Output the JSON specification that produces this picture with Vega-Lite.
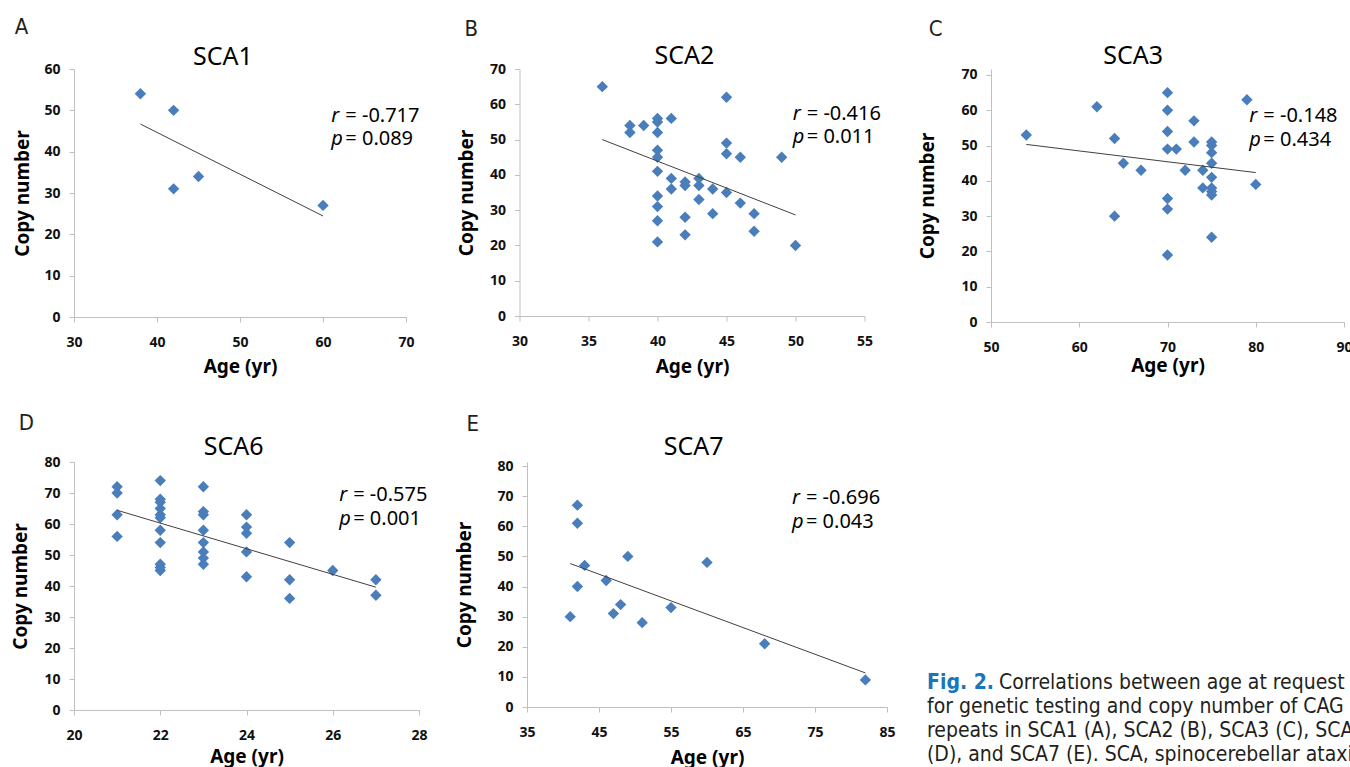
{
"$schema": "https://vega.github.io/schema/vega-lite/v6.json",
"background": "white",
"padding": {"left": 11, "top": 16, "right": 0, "bottom": 0},
"config": {
  "view": {"stroke": null},
  "axis": {"grid": false, "domainColor": "#bfbfbf", "tickColor": "#bfbfbf", "tickSize": 5,
    "labelFont": "Noto Sans", "labelFontSize": 14, "labelFontWeight": "bold", "labelColor": "#111",
    "titleFont": "Noto Sans", "titleFontSize": 19, "titleFontWeight": "bold", "titleColor": "#000",
    "labelFlush": false, "labelOverlap": false},
  "axisX": {"labelPadding": 13},
  "axisY": {"labelPadding": 9}
},
"datasets": {
  "pts": [
    {"panel":"SCA1","age":38,"copies":54},{"panel":"SCA1","age":42,"copies":50},{"panel":"SCA1","age":42,"copies":31},{"panel":"SCA1","age":45,"copies":34},{"panel":"SCA1","age":60,"copies":27},
    {"panel":"SCA2","age":36,"copies":65},{"panel":"SCA2","age":38,"copies":54},{"panel":"SCA2","age":38,"copies":52},{"panel":"SCA2","age":39,"copies":54},
    {"panel":"SCA2","age":40,"copies":56},{"panel":"SCA2","age":40,"copies":55},{"panel":"SCA2","age":40,"copies":52},{"panel":"SCA2","age":40,"copies":47},{"panel":"SCA2","age":40,"copies":45},{"panel":"SCA2","age":40,"copies":41},{"panel":"SCA2","age":40,"copies":34},{"panel":"SCA2","age":40,"copies":31},{"panel":"SCA2","age":40,"copies":27},{"panel":"SCA2","age":40,"copies":21},
    {"panel":"SCA2","age":41,"copies":56},{"panel":"SCA2","age":41,"copies":39},{"panel":"SCA2","age":41,"copies":36},
    {"panel":"SCA2","age":42,"copies":38},{"panel":"SCA2","age":42,"copies":37},{"panel":"SCA2","age":42,"copies":28},{"panel":"SCA2","age":42,"copies":23},
    {"panel":"SCA2","age":43,"copies":39},{"panel":"SCA2","age":43,"copies":37},{"panel":"SCA2","age":43,"copies":33},
    {"panel":"SCA2","age":44,"copies":36},{"panel":"SCA2","age":44,"copies":29},
    {"panel":"SCA2","age":45,"copies":62},{"panel":"SCA2","age":45,"copies":49},{"panel":"SCA2","age":45,"copies":46},{"panel":"SCA2","age":45,"copies":35},
    {"panel":"SCA2","age":46,"copies":45},{"panel":"SCA2","age":46,"copies":32},
    {"panel":"SCA2","age":47,"copies":29},{"panel":"SCA2","age":47,"copies":24},
    {"panel":"SCA2","age":49,"copies":45},{"panel":"SCA2","age":50,"copies":20},
    {"panel":"SCA3","age":54,"copies":53},{"panel":"SCA3","age":62,"copies":61},{"panel":"SCA3","age":64,"copies":52},{"panel":"SCA3","age":64,"copies":30},{"panel":"SCA3","age":65,"copies":45},{"panel":"SCA3","age":67,"copies":43},
    {"panel":"SCA3","age":70,"copies":65},{"panel":"SCA3","age":70,"copies":60},{"panel":"SCA3","age":70,"copies":54},{"panel":"SCA3","age":70,"copies":49},{"panel":"SCA3","age":70,"copies":35},{"panel":"SCA3","age":70,"copies":32},{"panel":"SCA3","age":70,"copies":19},
    {"panel":"SCA3","age":71,"copies":49},{"panel":"SCA3","age":72,"copies":43},{"panel":"SCA3","age":73,"copies":57},{"panel":"SCA3","age":73,"copies":51},{"panel":"SCA3","age":74,"copies":43},{"panel":"SCA3","age":74,"copies":38},
    {"panel":"SCA3","age":75,"copies":51},{"panel":"SCA3","age":75,"copies":50},{"panel":"SCA3","age":75,"copies":48},{"panel":"SCA3","age":75,"copies":45},{"panel":"SCA3","age":75,"copies":41},{"panel":"SCA3","age":75,"copies":38},{"panel":"SCA3","age":75,"copies":37},{"panel":"SCA3","age":75,"copies":36},{"panel":"SCA3","age":75,"copies":24},
    {"panel":"SCA3","age":79,"copies":63},{"panel":"SCA3","age":80,"copies":39},
    {"panel":"SCA6","age":21,"copies":72},{"panel":"SCA6","age":21,"copies":70},{"panel":"SCA6","age":21,"copies":63},{"panel":"SCA6","age":21,"copies":56},
    {"panel":"SCA6","age":22,"copies":74},{"panel":"SCA6","age":22,"copies":68},{"panel":"SCA6","age":22,"copies":67},{"panel":"SCA6","age":22,"copies":65},{"panel":"SCA6","age":22,"copies":63},{"panel":"SCA6","age":22,"copies":62},{"panel":"SCA6","age":22,"copies":58},{"panel":"SCA6","age":22,"copies":54},{"panel":"SCA6","age":22,"copies":47},{"panel":"SCA6","age":22,"copies":46},{"panel":"SCA6","age":22,"copies":45},
    {"panel":"SCA6","age":23,"copies":72},{"panel":"SCA6","age":23,"copies":64},{"panel":"SCA6","age":23,"copies":63},{"panel":"SCA6","age":23,"copies":58},{"panel":"SCA6","age":23,"copies":54},{"panel":"SCA6","age":23,"copies":51},{"panel":"SCA6","age":23,"copies":49},{"panel":"SCA6","age":23,"copies":47},
    {"panel":"SCA6","age":24,"copies":63},{"panel":"SCA6","age":24,"copies":59},{"panel":"SCA6","age":24,"copies":57},{"panel":"SCA6","age":24,"copies":51},{"panel":"SCA6","age":24,"copies":43},
    {"panel":"SCA6","age":25,"copies":54},{"panel":"SCA6","age":25,"copies":42},{"panel":"SCA6","age":25,"copies":36},
    {"panel":"SCA6","age":26,"copies":45},{"panel":"SCA6","age":27,"copies":42},{"panel":"SCA6","age":27,"copies":37},
    {"panel":"SCA7","age":41,"copies":30},{"panel":"SCA7","age":42,"copies":67},{"panel":"SCA7","age":42,"copies":61},{"panel":"SCA7","age":42,"copies":40},{"panel":"SCA7","age":43,"copies":47},{"panel":"SCA7","age":46,"copies":42},{"panel":"SCA7","age":47,"copies":31},{"panel":"SCA7","age":48,"copies":34},{"panel":"SCA7","age":49,"copies":50},{"panel":"SCA7","age":51,"copies":28},{"panel":"SCA7","age":55,"copies":33},{"panel":"SCA7","age":60,"copies":48},{"panel":"SCA7","age":68,"copies":21},{"panel":"SCA7","age":82,"copies":9}
  ],
  "stats": [
    {"panel":"SCA1","letter":"A","r":"= -0.717","p":"= 0.089"},
    {"panel":"SCA2","letter":"B","r":"= -0.416","p":"= 0.011"},
    {"panel":"SCA3","letter":"C","r":"= -0.148","p":"= 0.434"},
    {"panel":"SCA6","letter":"D","r":"= -0.575","p":"= 0.001"},
    {"panel":"SCA7","letter":"E","r":"= -0.696","p":"= 0.043"}
  ],
  "caption": [
    {"line":1,"part":"lead","text":"Fig. 2."},
    {"line":1,"part":"first","text":"Correlations between age at request"},
    {"line":2,"part":"body","text":"for genetic testing and copy number of CAG"},
    {"line":3,"part":"body","text":"repeats in SCA1 (A), SCA2 (B), SCA3 (C), SCA6"},
    {"line":4,"part":"body","text":"(D), and SCA7 (E). SCA, spinocerebellar ataxia."}
  ]
},
"spacing": 35,
"vconcat": [
{"spacing": 36.5, "columns": 3, "align": "none", "concat": [
  {"width": 332, "height": 248,
   "layer": [
    {"data": {"name":"pts"}, "transform": [{"filter":"datum.panel === 'SCA1'"}],
     "mark": {"type":"point","shape":"diamond","filled":true,"size":130,"color":"#4a7ebb","opacity":1},
     "encoding": {
       "x": {"field":"age","type":"quantitative","scale":{"domain":[30,70],"nice":false,"zero":false},"axis":{"title":"Age (yr)","values":[30,40,50,60,70],"titlePadding":8.5,"labelOverlap":false}},
       "y": {"field":"copies","type":"quantitative","scale":{"domain":[0,60],"nice":false},"axis":{"title":"Copy number","values":[0,10,20,30,40,50,60],"titlePadding":11,"labelOverlap":false}}}},
    {"data": {"name":"pts"}, "transform": [{"filter":"datum.panel === 'SCA1'"},{"regression":"copies","on":"age"}],
     "mark": {"type":"line","color":"#404040","strokeWidth":1},
     "encoding": {
       "x": {"field":"age","type":"quantitative","axis":{"title":"Age (yr)","values":[30,40,50,60,70],"titlePadding":8.5,"labelOverlap":false}},
       "y": {"field":"copies","type":"quantitative","axis":{"title":"Copy number","values":[0,10,20,30,40,50,60],"titlePadding":11,"labelOverlap":false}}}},
    {"data": {"name":"stats"}, "transform": [{"filter":"datum.panel === 'SCA1'"}],
     "mark": {"type":"text","font":"DejaVu Sans Condensed, Liberation Sans Narrow, Roboto","fontSize":22,"align":"left","baseline":"alphabetic","color":"#231f20"},
     "encoding": {"x":{"datum":22.86,"axis":{"title":"Age (yr)","values":[30,40,50,60,70],"titlePadding":8.5,"labelOverlap":false}},"y":{"datum":68.46,"axis":{"title":"Copy number","values":[0,10,20,30,40,50,60],"titlePadding":11,"labelOverlap":false}},"text":{"field":"letter"}}},
    {"data": {"name":"stats"}, "transform": [{"filter":"datum.panel === 'SCA1'"}],
     "mark": {"type":"text","font":"Noto Sans","fontSize":25,"align":"center","baseline":"alphabetic","color":"#000"},
     "encoding": {"x":{"datum":47.95,"axis":{"title":"Age (yr)","values":[30,40,50,60,70],"titlePadding":8.5,"labelOverlap":false}},"y":{"datum":60.97,"axis":{"title":"Copy number","values":[0,10,20,30,40,50,60],"titlePadding":11,"labelOverlap":false}},"text":{"field":"panel"}}},
    {"data": {"name":"stats"}, "transform": [{"filter":"datum.panel === 'SCA1'"}],
     "mark": {"type":"text","font":"Noto Sans","fontSize":20,"fontStyle":"italic","align":"left","baseline":"alphabetic","color":"#000"},
     "encoding": {"x":{"datum":61,"axis":{"title":"Age (yr)","values":[30,40,50,60,70],"titlePadding":8.5,"labelOverlap":false}},"y":{"datum":47.2,"axis":{"title":"Copy number","values":[0,10,20,30,40,50,60],"titlePadding":11,"labelOverlap":false}},"text":{"value":"r"}}},
    {"data": {"name":"stats"}, "transform": [{"filter":"datum.panel === 'SCA1'"}],
     "mark": {"type":"text","font":"Noto Sans","fontSize":20,"align":"left","baseline":"alphabetic","color":"#000","dx":14},
     "encoding": {"x":{"datum":61,"axis":{"title":"Age (yr)","values":[30,40,50,60,70],"titlePadding":8.5,"labelOverlap":false}},"y":{"datum":47.2,"axis":{"title":"Copy number","values":[0,10,20,30,40,50,60],"titlePadding":11,"labelOverlap":false}},"text":{"field":"r"}}},
    {"data": {"name":"stats"}, "transform": [{"filter":"datum.panel === 'SCA1'"}],
     "mark": {"type":"text","font":"Noto Sans","fontSize":20,"fontStyle":"italic","align":"left","baseline":"alphabetic","color":"#000"},
     "encoding": {"x":{"datum":61,"axis":{"title":"Age (yr)","values":[30,40,50,60,70],"titlePadding":8.5,"labelOverlap":false}},"y":{"datum":41.6,"axis":{"title":"Copy number","values":[0,10,20,30,40,50,60],"titlePadding":11,"labelOverlap":false}},"text":{"value":"p"}}},
    {"data": {"name":"stats"}, "transform": [{"filter":"datum.panel === 'SCA1'"}],
     "mark": {"type":"text","font":"Noto Sans","fontSize":20,"align":"left","baseline":"alphabetic","color":"#000","dx":14},
     "encoding": {"x":{"datum":61,"axis":{"title":"Age (yr)","values":[30,40,50,60,70],"titlePadding":8.5,"labelOverlap":false}},"y":{"datum":41.6,"axis":{"title":"Copy number","values":[0,10,20,30,40,50,60],"titlePadding":11,"labelOverlap":false}},"text":{"field":"p"}}}
   ]},
  {"width": 345, "height": 247,
   "layer": [
    {"data": {"name":"pts"}, "transform": [{"filter":"datum.panel === 'SCA2'"}],
     "mark": {"type":"point","shape":"diamond","filled":true,"size":130,"color":"#4a7ebb","opacity":1},
     "encoding": {
       "x": {"field":"age","type":"quantitative","scale":{"domain":[30,55],"nice":false,"zero":false},"axis":{"title":"Age (yr)","values":[30,35,40,45,50,55],"titlePadding":9.5,"labelOverlap":false}},
       "y": {"field":"copies","type":"quantitative","scale":{"domain":[0,70],"nice":false},"axis":{"title":"Copy number","values":[0,10,20,30,40,50,60,70],"titlePadding":13,"labelOverlap":false}}}},
    {"data": {"name":"pts"}, "transform": [{"filter":"datum.panel === 'SCA2'"},{"regression":"copies","on":"age"}],
     "mark": {"type":"line","color":"#404040","strokeWidth":1},
     "encoding": {
       "x": {"field":"age","type":"quantitative","axis":{"title":"Age (yr)","values":[30,35,40,45,50,55],"titlePadding":9.5,"labelOverlap":false}},
       "y": {"field":"copies","type":"quantitative","axis":{"title":"Copy number","values":[0,10,20,30,40,50,60,70],"titlePadding":13,"labelOverlap":false}}}},
    {"data": {"name":"stats"}, "transform": [{"filter":"datum.panel === 'SCA2'"}],
     "mark": {"type":"text","font":"DejaVu Sans Condensed, Liberation Sans Narrow, Roboto","fontSize":22,"align":"left","baseline":"alphabetic","color":"#231f20"},
     "encoding": {"x":{"datum":26.02,"axis":{"title":"Age (yr)","values":[30,35,40,45,50,55],"titlePadding":9.5,"labelOverlap":false}},"y":{"datum":79.35,"axis":{"title":"Copy number","values":[0,10,20,30,40,50,60,70],"titlePadding":13,"labelOverlap":false}},"text":{"field":"letter"}}},
    {"data": {"name":"stats"}, "transform": [{"filter":"datum.panel === 'SCA2'"}],
     "mark": {"type":"text","font":"Noto Sans","fontSize":25,"align":"center","baseline":"alphabetic","color":"#000"},
     "encoding": {"x":{"datum":41.95,"axis":{"title":"Age (yr)","values":[30,35,40,45,50,55],"titlePadding":9.5,"labelOverlap":false}},"y":{"datum":71.4,"axis":{"title":"Copy number","values":[0,10,20,30,40,50,60,70],"titlePadding":13,"labelOverlap":false}},"text":{"field":"panel"}}},
    {"data": {"name":"stats"}, "transform": [{"filter":"datum.panel === 'SCA2'"}],
     "mark": {"type":"text","font":"Noto Sans","fontSize":20,"fontStyle":"italic","align":"left","baseline":"alphabetic","color":"#000"},
     "encoding": {"x":{"datum":49.8,"axis":{"title":"Age (yr)","values":[30,35,40,45,50,55],"titlePadding":9.5,"labelOverlap":false}},"y":{"datum":55.5,"axis":{"title":"Copy number","values":[0,10,20,30,40,50,60,70],"titlePadding":13,"labelOverlap":false}},"text":{"value":"r"}}},
    {"data": {"name":"stats"}, "transform": [{"filter":"datum.panel === 'SCA2'"}],
     "mark": {"type":"text","font":"Noto Sans","fontSize":20,"align":"left","baseline":"alphabetic","color":"#000","dx":14},
     "encoding": {"x":{"datum":49.8,"axis":{"title":"Age (yr)","values":[30,35,40,45,50,55],"titlePadding":9.5,"labelOverlap":false}},"y":{"datum":55.5,"axis":{"title":"Copy number","values":[0,10,20,30,40,50,60,70],"titlePadding":13,"labelOverlap":false}},"text":{"field":"r"}}},
    {"data": {"name":"stats"}, "transform": [{"filter":"datum.panel === 'SCA2'"}],
     "mark": {"type":"text","font":"Noto Sans","fontSize":20,"fontStyle":"italic","align":"left","baseline":"alphabetic","color":"#000"},
     "encoding": {"x":{"datum":49.8,"axis":{"title":"Age (yr)","values":[30,35,40,45,50,55],"titlePadding":9.5,"labelOverlap":false}},"y":{"datum":48.9,"axis":{"title":"Copy number","values":[0,10,20,30,40,50,60,70],"titlePadding":13,"labelOverlap":false}},"text":{"value":"p"}}},
    {"data": {"name":"stats"}, "transform": [{"filter":"datum.panel === 'SCA2'"}],
     "mark": {"type":"text","font":"Noto Sans","fontSize":20,"align":"left","baseline":"alphabetic","color":"#000","dx":14},
     "encoding": {"x":{"datum":49.8,"axis":{"title":"Age (yr)","values":[30,35,40,45,50,55],"titlePadding":9.5,"labelOverlap":false}},"y":{"datum":48.9,"axis":{"title":"Copy number","values":[0,10,20,30,40,50,60,70],"titlePadding":13,"labelOverlap":false}},"text":{"field":"p"}}}
   ]},
  {"width": 353, "height": 253,
   "layer": [
    {"data": {"name":"pts"}, "transform": [{"filter":"datum.panel === 'SCA3'"}],
     "mark": {"type":"point","shape":"diamond","filled":true,"size":130,"color":"#4a7ebb","opacity":1},
     "encoding": {
       "x": {"field":"age","type":"quantitative","scale":{"domain":[50,90],"nice":false,"zero":false},"axis":{"title":"Age (yr)","values":[50,60,70,80,90],"titlePadding":2,"labelOverlap":false}},
       "y": {"field":"copies","type":"quantitative","scale":{"domain":[0,71.7],"nice":false},"axis":{"title":"Copy number","values":[0,10,20,30,40,50,60,70],"titlePadding":23.5,"labelOverlap":false}}}},
    {"data": {"name":"pts"}, "transform": [{"filter":"datum.panel === 'SCA3'"},{"regression":"copies","on":"age"}],
     "mark": {"type":"line","color":"#404040","strokeWidth":1},
     "encoding": {
       "x": {"field":"age","type":"quantitative","axis":{"title":"Age (yr)","values":[50,60,70,80,90],"titlePadding":2,"labelOverlap":false}},
       "y": {"field":"copies","type":"quantitative","axis":{"title":"Copy number","values":[0,10,20,30,40,50,60,70],"titlePadding":23.5,"labelOverlap":false}}}},
    {"data": {"name":"stats"}, "transform": [{"filter":"datum.panel === 'SCA3'"}],
     "mark": {"type":"text","font":"DejaVu Sans Condensed, Liberation Sans Narrow, Roboto","fontSize":22,"align":"left","baseline":"alphabetic","color":"#231f20"},
     "encoding": {"x":{"datum":42.94,"axis":{"title":"Age (yr)","values":[50,60,70,80,90],"titlePadding":2,"labelOverlap":false}},"y":{"datum":81.05,"axis":{"title":"Copy number","values":[0,10,20,30,40,50,60,70],"titlePadding":23.5,"labelOverlap":false}},"text":{"field":"letter"}}},
    {"data": {"name":"stats"}, "transform": [{"filter":"datum.panel === 'SCA3'"}],
     "mark": {"type":"text","font":"Noto Sans","fontSize":25,"align":"center","baseline":"alphabetic","color":"#000"},
     "encoding": {"x":{"datum":66.1,"axis":{"title":"Age (yr)","values":[50,60,70,80,90],"titlePadding":2,"labelOverlap":false}},"y":{"datum":73.1,"axis":{"title":"Copy number","values":[0,10,20,30,40,50,60,70],"titlePadding":23.5,"labelOverlap":false}},"text":{"field":"panel"}}},
    {"data": {"name":"stats"}, "transform": [{"filter":"datum.panel === 'SCA3'"}],
     "mark": {"type":"text","font":"Noto Sans","fontSize":20,"fontStyle":"italic","align":"left","baseline":"alphabetic","color":"#000"},
     "encoding": {"x":{"datum":79.27,"axis":{"title":"Age (yr)","values":[50,60,70,80,90],"titlePadding":2,"labelOverlap":false}},"y":{"datum":56.8,"axis":{"title":"Copy number","values":[0,10,20,30,40,50,60,70],"titlePadding":23.5,"labelOverlap":false}},"text":{"value":"r"}}},
    {"data": {"name":"stats"}, "transform": [{"filter":"datum.panel === 'SCA3'"}],
     "mark": {"type":"text","font":"Noto Sans","fontSize":20,"align":"left","baseline":"alphabetic","color":"#000","dx":14},
     "encoding": {"x":{"datum":79.27,"axis":{"title":"Age (yr)","values":[50,60,70,80,90],"titlePadding":2,"labelOverlap":false}},"y":{"datum":56.8,"axis":{"title":"Copy number","values":[0,10,20,30,40,50,60,70],"titlePadding":23.5,"labelOverlap":false}},"text":{"field":"r"}}},
    {"data": {"name":"stats"}, "transform": [{"filter":"datum.panel === 'SCA3'"}],
     "mark": {"type":"text","font":"Noto Sans","fontSize":20,"fontStyle":"italic","align":"left","baseline":"alphabetic","color":"#000"},
     "encoding": {"x":{"datum":79.27,"axis":{"title":"Age (yr)","values":[50,60,70,80,90],"titlePadding":2,"labelOverlap":false}},"y":{"datum":50.0,"axis":{"title":"Copy number","values":[0,10,20,30,40,50,60,70],"titlePadding":23.5,"labelOverlap":false}},"text":{"value":"p"}}},
    {"data": {"name":"stats"}, "transform": [{"filter":"datum.panel === 'SCA3'"}],
     "mark": {"type":"text","font":"Noto Sans","fontSize":20,"align":"left","baseline":"alphabetic","color":"#000","dx":14},
     "encoding": {"x":{"datum":79.27,"axis":{"title":"Age (yr)","values":[50,60,70,80,90],"titlePadding":2,"labelOverlap":false}},"y":{"datum":50.0,"axis":{"title":"Copy number","values":[0,10,20,30,40,50,60,70],"titlePadding":23.5,"labelOverlap":false}},"text":{"field":"p"}}}
   ]}
]},
{"spacing": 27, "columns": 3, "align": "none", "concat": [
  {"width": 345, "height": 248,
   "layer": [
    {"data": {"name":"pts"}, "transform": [{"filter":"datum.panel === 'SCA6'"}],
     "mark": {"type":"point","shape":"diamond","filled":true,"size":130,"color":"#4a7ebb","opacity":1},
     "encoding": {
       "x": {"field":"age","type":"quantitative","scale":{"domain":[20,28],"nice":false,"zero":false},"axis":{"title":"Age (yr)","values":[20,22,24,26,28],"titlePadding":5.7,"labelOverlap":false}},
       "y": {"field":"copies","type":"quantitative","scale":{"domain":[0,80],"nice":false},"axis":{"title":"Copy number","values":[0,10,20,30,40,50,60,70,80],"titlePadding":13,"labelOverlap":false}}}},
    {"data": {"name":"pts"}, "transform": [{"filter":"datum.panel === 'SCA6'"},{"regression":"copies","on":"age"}],
     "mark": {"type":"line","color":"#404040","strokeWidth":1},
     "encoding": {
       "x": {"field":"age","type":"quantitative","axis":{"title":"Age (yr)","values":[20,22,24,26,28],"titlePadding":5.7,"labelOverlap":false}},
       "y": {"field":"copies","type":"quantitative","axis":{"title":"Copy number","values":[0,10,20,30,40,50,60,70,80],"titlePadding":13,"labelOverlap":false}}}},
    {"data": {"name":"stats"}, "transform": [{"filter":"datum.panel === 'SCA6'"}],
     "mark": {"type":"text","font":"DejaVu Sans Condensed, Liberation Sans Narrow, Roboto","fontSize":22,"align":"left","baseline":"alphabetic","color":"#231f20"},
     "encoding": {"x":{"datum":18.72,"axis":{"title":"Age (yr)","values":[20,22,24,26,28],"titlePadding":5.7,"labelOverlap":false}},"y":{"datum":90.31,"axis":{"title":"Copy number","values":[0,10,20,30,40,50,60,70,80],"titlePadding":13,"labelOverlap":false}},"text":{"field":"letter"}}},
    {"data": {"name":"stats"}, "transform": [{"filter":"datum.panel === 'SCA6'"}],
     "mark": {"type":"text","font":"Noto Sans","fontSize":25,"align":"center","baseline":"alphabetic","color":"#000"},
     "encoding": {"x":{"datum":23.7,"axis":{"title":"Age (yr)","values":[20,22,24,26,28],"titlePadding":5.7,"labelOverlap":false}},"y":{"datum":82.2,"axis":{"title":"Copy number","values":[0,10,20,30,40,50,60,70,80],"titlePadding":13,"labelOverlap":false}},"text":{"field":"panel"}}},
    {"data": {"name":"stats"}, "transform": [{"filter":"datum.panel === 'SCA6'"}],
     "mark": {"type":"text","font":"Noto Sans","fontSize":20,"fontStyle":"italic","align":"left","baseline":"alphabetic","color":"#000"},
     "encoding": {"x":{"datum":26.15,"axis":{"title":"Age (yr)","values":[20,22,24,26,28],"titlePadding":5.7,"labelOverlap":false}},"y":{"datum":67.4,"axis":{"title":"Copy number","values":[0,10,20,30,40,50,60,70,80],"titlePadding":13,"labelOverlap":false}},"text":{"value":"r"}}},
    {"data": {"name":"stats"}, "transform": [{"filter":"datum.panel === 'SCA6'"}],
     "mark": {"type":"text","font":"Noto Sans","fontSize":20,"align":"left","baseline":"alphabetic","color":"#000","dx":14},
     "encoding": {"x":{"datum":26.15,"axis":{"title":"Age (yr)","values":[20,22,24,26,28],"titlePadding":5.7,"labelOverlap":false}},"y":{"datum":67.4,"axis":{"title":"Copy number","values":[0,10,20,30,40,50,60,70,80],"titlePadding":13,"labelOverlap":false}},"text":{"field":"r"}}},
    {"data": {"name":"stats"}, "transform": [{"filter":"datum.panel === 'SCA6'"}],
     "mark": {"type":"text","font":"Noto Sans","fontSize":20,"fontStyle":"italic","align":"left","baseline":"alphabetic","color":"#000"},
     "encoding": {"x":{"datum":26.15,"axis":{"title":"Age (yr)","values":[20,22,24,26,28],"titlePadding":5.7,"labelOverlap":false}},"y":{"datum":59.6,"axis":{"title":"Copy number","values":[0,10,20,30,40,50,60,70,80],"titlePadding":13,"labelOverlap":false}},"text":{"value":"p"}}},
    {"data": {"name":"stats"}, "transform": [{"filter":"datum.panel === 'SCA6'"}],
     "mark": {"type":"text","font":"Noto Sans","fontSize":20,"align":"left","baseline":"alphabetic","color":"#000","dx":14},
     "encoding": {"x":{"datum":26.15,"axis":{"title":"Age (yr)","values":[20,22,24,26,28],"titlePadding":5.7,"labelOverlap":false}},"y":{"datum":59.6,"axis":{"title":"Copy number","values":[0,10,20,30,40,50,60,70,80],"titlePadding":13,"labelOverlap":false}},"text":{"field":"p"}}}
   ]},
  {"width": 360, "height": 245,
   "layer": [
    {"data": {"name":"pts"}, "transform": [{"filter":"datum.panel === 'SCA7'"}],
     "mark": {"type":"point","shape":"diamond","filled":true,"size":130,"color":"#4a7ebb","opacity":1},
     "encoding": {
       "x": {"field":"age","type":"quantitative","scale":{"domain":[35,85],"nice":false,"zero":false},"axis":{"title":"Age (yr)","values":[35,45,55,65,75,85],"titlePadding":9.6,"labelOverlap":false}},
       "y": {"field":"copies","type":"quantitative","scale":{"domain":[0,81.33],"nice":false},"axis":{"title":"Copy number","values":[0,10,20,30,40,50,60,70,80],"titlePadding":22,"labelOverlap":false}}}},
    {"data": {"name":"pts"}, "transform": [{"filter":"datum.panel === 'SCA7'"},{"regression":"copies","on":"age"}],
     "mark": {"type":"line","color":"#404040","strokeWidth":1},
     "encoding": {
       "x": {"field":"age","type":"quantitative","axis":{"title":"Age (yr)","values":[35,45,55,65,75,85],"titlePadding":9.6,"labelOverlap":false}},
       "y": {"field":"copies","type":"quantitative","axis":{"title":"Copy number","values":[0,10,20,30,40,50,60,70,80],"titlePadding":22,"labelOverlap":false}}}},
    {"data": {"name":"stats"}, "transform": [{"filter":"datum.panel === 'SCA7'"}],
     "mark": {"type":"text","font":"DejaVu Sans Condensed, Liberation Sans Narrow, Roboto","fontSize":22,"align":"left","baseline":"alphabetic","color":"#231f20"},
     "encoding": {"x":{"datum":26.58,"axis":{"title":"Age (yr)","values":[35,45,55,65,75,85],"titlePadding":9.6,"labelOverlap":false}},"y":{"datum":91.74,"axis":{"title":"Copy number","values":[0,10,20,30,40,50,60,70,80],"titlePadding":22,"labelOverlap":false}},"text":{"field":"letter"}}},
    {"data": {"name":"stats"}, "transform": [{"filter":"datum.panel === 'SCA7'"}],
     "mark": {"type":"text","font":"Noto Sans","fontSize":25,"align":"center","baseline":"alphabetic","color":"#000"},
     "encoding": {"x":{"datum":58.15,"axis":{"title":"Age (yr)","values":[35,45,55,65,75,85],"titlePadding":9.6,"labelOverlap":false}},"y":{"datum":83.7,"axis":{"title":"Copy number","values":[0,10,20,30,40,50,60,70,80],"titlePadding":22,"labelOverlap":false}},"text":{"field":"panel"}}},
    {"data": {"name":"stats"}, "transform": [{"filter":"datum.panel === 'SCA7'"}],
     "mark": {"type":"text","font":"Noto Sans","fontSize":20,"fontStyle":"italic","align":"left","baseline":"alphabetic","color":"#000"},
     "encoding": {"x":{"datum":71.8,"axis":{"title":"Age (yr)","values":[35,45,55,65,75,85],"titlePadding":9.6,"labelOverlap":false}},"y":{"datum":67.4,"axis":{"title":"Copy number","values":[0,10,20,30,40,50,60,70,80],"titlePadding":22,"labelOverlap":false}},"text":{"value":"r"}}},
    {"data": {"name":"stats"}, "transform": [{"filter":"datum.panel === 'SCA7'"}],
     "mark": {"type":"text","font":"Noto Sans","fontSize":20,"align":"left","baseline":"alphabetic","color":"#000","dx":14},
     "encoding": {"x":{"datum":71.8,"axis":{"title":"Age (yr)","values":[35,45,55,65,75,85],"titlePadding":9.6,"labelOverlap":false}},"y":{"datum":67.4,"axis":{"title":"Copy number","values":[0,10,20,30,40,50,60,70,80],"titlePadding":22,"labelOverlap":false}},"text":{"field":"r"}}},
    {"data": {"name":"stats"}, "transform": [{"filter":"datum.panel === 'SCA7'"}],
     "mark": {"type":"text","font":"Noto Sans","fontSize":20,"fontStyle":"italic","align":"left","baseline":"alphabetic","color":"#000"},
     "encoding": {"x":{"datum":71.8,"axis":{"title":"Age (yr)","values":[35,45,55,65,75,85],"titlePadding":9.6,"labelOverlap":false}},"y":{"datum":59.5,"axis":{"title":"Copy number","values":[0,10,20,30,40,50,60,70,80],"titlePadding":22,"labelOverlap":false}},"text":{"value":"p"}}},
    {"data": {"name":"stats"}, "transform": [{"filter":"datum.panel === 'SCA7'"}],
     "mark": {"type":"text","font":"Noto Sans","fontSize":20,"align":"left","baseline":"alphabetic","color":"#000","dx":14},
     "encoding": {"x":{"datum":71.8,"axis":{"title":"Age (yr)","values":[35,45,55,65,75,85],"titlePadding":9.6,"labelOverlap":false}},"y":{"datum":59.5,"axis":{"title":"Copy number","values":[0,10,20,30,40,50,60,70,80],"titlePadding":22,"labelOverlap":false}},"text":{"field":"p"}}}
   ]},
  {"width": 432, "height": 305,
   "data": {"name":"caption"},
   "encoding": {
     "x": {"datum": 0, "type": "quantitative", "scale": {"domain": [0, 1]}, "axis": null},
     "y": {"field": "line", "type": "quantitative", "scale": {"domain": [-8.47, 4.24], "reverse": true, "nice": false, "zero": false}, "axis": null},
     "text": {"field": "text"}
   },
   "layer": [
    {"transform": [{"filter": "datum.part === 'lead'"}],
     "mark": {"type":"text","align":"left","baseline":"alphabetic","font":"DejaVu Sans Condensed, Liberation Sans Narrow, Roboto","fontSize":21,"fontWeight":"bold","color":"#1b75bc","clip":true,"dx":4}},
    {"transform": [{"filter": "datum.part === 'first'"}],
     "mark": {"type":"text","align":"left","baseline":"alphabetic","font":"DejaVu Sans Condensed, Liberation Sans Narrow, Roboto","fontSize":21,"color":"#231f20","clip":true,"dx":76}},
    {"transform": [{"filter": "datum.part === 'body'"}],
     "mark": {"type":"text","align":"left","baseline":"alphabetic","font":"DejaVu Sans Condensed, Liberation Sans Narrow, Roboto","fontSize":21,"color":"#231f20","clip":true,"dx":4}}
   ]}
]}
]
}
